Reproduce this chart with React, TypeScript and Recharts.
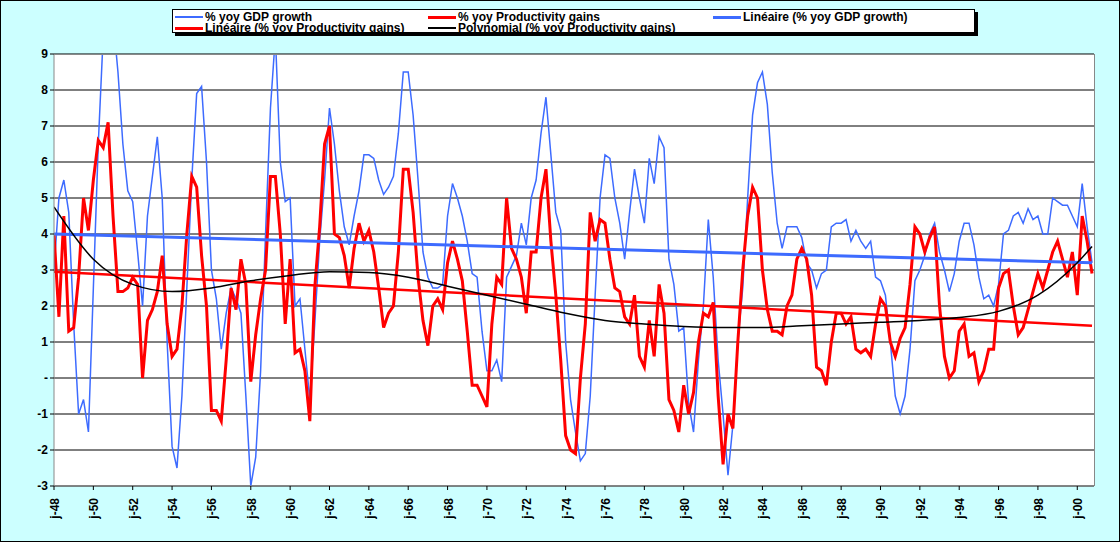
import React from "react";
import { LineChart, Line, XAxis, YAxis, CartesianGrid } from "recharts";

const START_YEAR = 1948;
// quarterly values, 1948 Q1 .. 2000 Q4
const gdpGrowth = [
  3.0, 5.0, 5.5, 4.6, 1.5, -1.0, -0.6, -1.5, 2.5, 6.5, 9.5, 10.5, 10.0, 8.5, 6.5, 5.2,
  4.9, 3.5, 2.0, 4.5, 5.6, 6.7, 5.0, 1.0, -1.9, -2.5, -0.5, 2.5, 5.5, 7.9, 8.1, 6.0,
  3.0, 2.2, 0.8, 1.8, 2.5, 2.2, 1.8, -0.5, -3.0, -2.2, 0.2, 4.0, 7.5, 9.5, 6.0, 4.9,
  5.0, 2.0, 2.2, 0.8, -0.6, 1.5, 3.8, 5.5, 7.5, 6.5, 5.2, 4.2, 3.7, 4.5, 5.2, 6.2,
  6.2, 6.1, 5.5, 5.1, 5.3, 5.6, 6.8, 8.5, 8.5, 7.3, 5.5, 3.5, 2.8, 2.5, 2.5, 2.6,
  4.5, 5.4, 5.0, 4.5, 3.8, 2.9, 2.8, 1.3, 0.2, 0.2, 0.5, -0.1, 2.8, 3.1, 3.4, 4.3,
  3.7, 5.0, 5.5, 6.8, 7.8, 6.2, 4.6, 4.1, 1.0, -0.6, -1.5, -2.3, -2.1, -0.5, 2.3, 5.0,
  6.2, 6.1, 5.0, 4.3, 3.3, 4.6, 5.8, 5.0, 4.3, 6.1, 5.4, 6.7, 6.4, 3.3, 2.6, 1.3,
  1.4, -0.7, -1.5, 0.5, 2.0, 4.4, 2.8, 0.5, -1.0, -2.7, -1.3, 1.0, 2.5, 5.0, 7.3, 8.2,
  8.5, 7.6, 5.7, 4.3, 3.6, 4.2, 4.2, 4.2, 3.9, 3.2, 3.0, 2.5, 2.9, 3.0, 4.2, 4.3,
  4.3, 4.4, 3.8, 4.1, 3.8, 3.6, 3.8, 2.8, 2.7, 2.3, 1.0, -0.5, -1.0, -0.5, 0.8, 2.7,
  3.0, 3.4, 4.0, 4.3, 3.5, 3.0, 2.4, 2.9, 3.8, 4.3, 4.3, 3.7, 2.8, 2.2, 2.3, 2.0,
  2.6, 4.0, 4.1, 4.5, 4.6, 4.3, 4.7, 4.4, 4.5, 4.0, 4.0, 5.0, 4.9, 4.8, 4.8, 4.5,
  4.2, 5.4, 4.2, 3.2,
];
const productivityGains = [
  4.0, 1.7, 4.5, 1.3, 1.4, 2.8, 5.0, 4.1, 5.5, 6.6, 6.4, 7.1, 4.5, 2.4, 2.4, 2.5,
  2.8, 2.6, 0.0, 1.6, 1.9, 2.4, 3.4, 1.5, 0.6, 0.8, 2.0, 4.0, 5.6, 5.3, 3.4, 2.0,
  -0.9, -0.9, -1.2, 0.5, 2.5, 1.9, 3.3, 2.6, -0.1, 1.2, 2.2, 3.0, 5.6, 5.6, 4.0, 1.5,
  3.3, 0.7, 0.8, 0.2, -1.2, 2.5, 4.2, 6.5, 7.0, 4.0, 3.9, 3.4, 2.5, 3.6, 4.3, 3.8,
  4.1, 3.5, 2.5, 1.4, 1.8, 2.0, 3.5, 5.8, 5.8, 4.6, 2.8, 1.6, 0.9, 2.0, 2.2, 1.9,
  3.2, 3.8, 3.3, 2.7, 1.3, -0.2, -0.2, -0.5, -0.8, 1.5, 2.8, 2.6, 5.0, 3.6, 3.3, 2.8,
  1.8, 3.5, 3.5, 5.0, 5.8, 3.8, 2.3, 0.5, -1.6, -2.0, -2.1, 0.0, 1.5, 4.6, 3.8, 4.4,
  4.3, 3.3, 2.5, 2.4, 1.7, 1.5, 2.3, 0.6, 0.3, 1.6, 0.6, 2.6, 1.8, -0.6, -0.9, -1.5,
  -0.2, -1.0, -0.4, 1.0, 1.8, 1.7, 2.1, -0.5, -2.4, -1.0, -1.4, 1.0, 3.0, 4.5, 5.3, 5.0,
  3.0, 1.9, 1.3, 1.3, 1.2, 2.0, 2.3, 3.3, 3.6, 3.3, 2.3, 0.3, 0.2, -0.2, 1.0, 1.8,
  1.8, 1.5, 1.7, 0.8, 0.7, 0.8, 0.6, 1.5, 2.2, 2.0, 1.0, 0.6, 1.1, 1.4, 2.6, 4.2,
  4.0, 3.5, 3.9, 4.2, 2.0, 0.6, 0.0, 0.2, 1.3, 1.5, 0.6, 0.7, -0.1, 0.2, 0.8, 0.8,
  2.5, 2.9, 3.0, 2.0, 1.2, 1.4, 1.9, 2.4, 2.9, 2.5, 3.0, 3.5, 3.8, 3.3, 2.8, 3.5,
  2.3, 4.5, 3.8, 2.9,
];
// trend lines at their end points / key years
const gdpLinearYears = [1948, 2000.75];
const gdpLinearValues = [4.0, 3.2];
const prodLinearYears = [1948, 2000.75];
const prodLinearValues = [2.95, 1.45];
const polyYears = [1948, 1950, 1952, 1954, 1956, 1958, 1960, 1962, 1964, 1966, 1968, 1970, 1972, 1974, 1976, 1978, 1980, 1982, 1984, 1986, 1988, 1990, 1992, 1994, 1996, 1998, 2000, 2000.75];
const polyValues = [4.75, 3.3, 2.6, 2.4, 2.5, 2.7, 2.85, 2.95, 2.93, 2.8, 2.55, 2.3, 2.05, 1.8, 1.6, 1.5, 1.43, 1.4, 1.4, 1.45, 1.5, 1.55, 1.6, 1.68, 1.85, 2.3, 3.2, 3.65];
const xTicks = [1948, 1950, 1952, 1954, 1956, 1958, 1960, 1962, 1964, 1966, 1968, 1970, 1972, 1974, 1976, 1978, 1980, 1982, 1984, 1986, 1988, 1990, 1992, 1994, 1996, 1998, 2000];
const yTicks = [-3, -2, -1, 0, 1, 2, 3, 4, 5, 6, 7, 8, 9];

const data = gdpGrowth.map((g, i) => {
  const t = START_YEAR + i * 0.25;
  const row: any = { t, gdp: g, prod: productivityGains[i] };
  const a = gdpLinearYears.indexOf(t);
  if (a >= 0) row.gdpLin = gdpLinearValues[a];
  const b = prodLinearYears.indexOf(t);
  if (b >= 0) row.prodLin = prodLinearValues[b];
  const c = polyYears.indexOf(t);
  if (c >= 0) row.poly = polyValues[c];
  return row;
});

const BLUE = "#3d6bff";
const RED = "#ff0000";

const XTick = (props: any) => {
  const { x, y, payload } = props;
  const yy = String(payload.value % 100).padStart(2, "0");
  return (
    <text x={x + 5} y={y + 6} transform={`rotate(-90 ${x + 5} ${y + 6})`} textAnchor="end"
      fontFamily="Arial, Liberation Sans" fontWeight="bold" fontSize={12} fill="#000">
      {"j-" + yy}
    </text>
  );
};

const legendItems = [
  { label: "% yoy GDP growth", color: BLUE, w: 1.5 },
  { label: "% yoy Productivity gains", color: RED, w: 3 },
  { label: "Linéaire (% yoy GDP growth)", color: BLUE, w: 3 },
  { label: "Linéaire (% yoy Productivity gains)", color: RED, w: 3 },
  { label: "Polynomial (% yoy Productivity gains)", color: "#000", w: 1.5 },
];

export default function App() {
  return (
    <div style={{ position: "absolute", left: 0, top: 0, width: 1118, height: 540, border: "1px solid #000", background: "#ccffff", fontFamily: "Arial, Liberation Sans" }}>
      <LineChart width={1118} height={540} data={data} margin={{ top: 53, right: 25, bottom: 0, left: 0 }}>
        <CartesianGrid horizontal vertical={false} stroke="#000" fill="#fff" strokeOpacity={1} />
        <XAxis dataKey="t" type="number" domain={[1948, 2000.85]} ticks={xTicks} interval={0}
          tick={<XTick />} height={55} axisLine={{ stroke: "#888" }} tickLine={{ stroke: "#000" }} tickSize={4} allowDataOverflow />
        <YAxis domain={[-3, 9]} ticks={yTicks} allowDataOverflow width={53} interval={0}
          tickFormatter={(v: number) => (v === 0 ? "-" : String(v))}
          tick={{ fill: "#000", fontWeight: "bold", fontSize: 12, fontFamily: "Arial, Liberation Sans" }}
          axisLine={{ stroke: "#888" }} tickLine={{ stroke: "#000" }} tickSize={4} />
        <Line dataKey="gdp" stroke={BLUE} strokeWidth={1.5} dot={false} isAnimationActive={false} type="linear" />
        <Line dataKey="prod" stroke={RED} strokeWidth={3} dot={false} isAnimationActive={false} type="linear" />
        <Line dataKey="gdpLin" stroke={BLUE} strokeWidth={3} dot={false} isAnimationActive={false} connectNulls />
        <Line dataKey="prodLin" stroke={RED} strokeWidth={2.5} dot={false} isAnimationActive={false} connectNulls />
        <Line dataKey="poly" stroke="#000" strokeWidth={1.5} dot={false} isAnimationActive={false} connectNulls type="monotone" />
      </LineChart>
      <div style={{ position: "absolute", left: 1093, top: 53, width: 1, height: 432, background: "#888" }} />
      <div style={{ position: "absolute", left: 53, top: 53, width: 1040, height: 1, background: "#888" }} />
      <div style={{ position: "absolute", left: 171, top: 8, width: 801, height: 22, border: "1px solid #000", boxShadow: "3px 3px 0 #000", background: "#fff", overflow: "hidden" }}>
        {legendItems.map((it, i) => {
          const col = i % 3;
          const row = Math.floor(i / 3);
          const lefts = [2, 255, 540];
          return (
            <div key={i} style={{ position: "absolute", left: lefts[col], top: row === 0 ? 0 : 11, display: "flex", alignItems: "center", fontSize: 12, fontWeight: "bold", whiteSpace: "nowrap", height: 14, lineHeight: "14px" }}>
              <span style={{ display: "inline-block", width: 28, height: it.w, background: it.color, marginRight: 2 }} />
              {it.label}
            </div>
          );
        })}
      </div>
    </div>
  );
}
